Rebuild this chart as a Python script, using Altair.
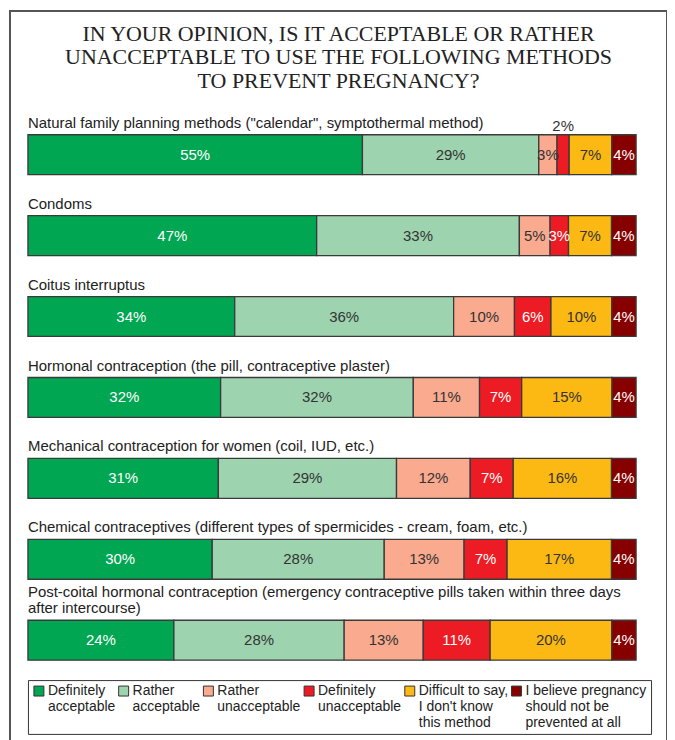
import json
import altair as alt
import pandas as pd

methods = [
    'Natural family planning methods ("calendar", symptothermal method)',
    'Condoms',
    'Coitus interruptus',
    'Hormonal contraception (the pill, contraceptive plaster)',
    'Mechanical contraception for women (coil, IUD, etc.)',
    'Chemical contraceptives (different types of spermicides - cream, foam, etc.)',
    'Post-coital hormonal contraception (emergency contraceptive pills taken within three days after intercourse)',
]
method_label_lines = [
    ['Natural family planning methods ("calendar", symptothermal method)'],
    ['Condoms'],
    ['Coitus interruptus'],
    ['Hormonal contraception (the pill, contraceptive plaster)'],
    ['Mechanical contraception for women (coil, IUD, etc.)'],
    ['Chemical contraceptives (different types of spermicides - cream, foam, etc.)'],
    ['Post-coital hormonal contraception (emergency contraceptive pills taken within three days',
     'after intercourse)'],
]

categories = [
    "Definitely acceptable",
    "Rather acceptable",
    "Rather unacceptable",
    "Definitely unacceptable",
    "Difficult to say, I don't know this method",
    "I believe pregnancy should not be prevented at all",
]
legend_lines = [
    ["Definitely", "acceptable", " "],
    ["Rather", "acceptable", " "],
    ["Rather", "unacceptable", " "],
    ["Definitely", "unacceptable", " "],
    ["Difficult to say,", "I don't know", "this method"],
    ["I believe pregnancy", "should not be", "prevented at all"],
]
colors = ["#00A651", "#9DD3AF", "#F9AA8F", "#ED1C24", "#FDB913", "#870000"]

definitely_acceptable = [55, 47, 34, 32, 31, 30, 24]
rather_acceptable = [29, 33, 36, 32, 29, 28, 28]
rather_unacceptable = [3, 5, 10, 11, 12, 13, 13]
definitely_unacceptable = [2, 3, 6, 7, 7, 7, 11]
difficult_to_say = [7, 7, 10, 15, 16, 17, 20]
not_prevented = [4, 4, 4, 4, 4, 4, 4]

series = [definitely_acceptable, rather_acceptable, rather_unacceptable,
          definitely_unacceptable, difficult_to_say, not_prevented]

rows = []
for ci, (cat, vals) in enumerate(zip(categories, series)):
    for mi, m in enumerate(methods):
        rows.append({"method": m, "category": cat, "order": ci, "value": vals[mi]})
df = pd.DataFrame(rows)

label_rows = []
for m, lines in zip(methods, method_label_lines):
    n = len(lines)
    for i, line in enumerate(lines):
        label_rows.append({"method": m, "line": line, "from_bottom": n - 1 - i})
labels_df = pd.DataFrame(label_rows)

SANS = "Liberation Sans"
white_cats = [categories[0], categories[3], categories[5]]

x_scale = alt.Scale(domain=[0, 1], range=[18, 628])
y_scale = alt.Scale(domain=methods, range=[124, 651], paddingInner=0.507, paddingOuter=0)

legend_map = json.dumps(dict(zip(categories, legend_lines)))

base = alt.Chart(df).transform_joinaggregate(
    total="sum(value)", groupby=["method"]
).transform_window(
    cum="sum(value)", groupby=["method"], sort=[alt.SortField("order")], frame=[None, 0]
).transform_calculate(
    start="(datum.cum - datum.value) / datum.total",
    end="datum.cum / datum.total",
    mid="(datum.cum - datum.value / 2) / datum.total",
    label="datum.value + '%'",
)

bars = base.mark_bar(stroke="#3a3a3a", strokeWidth=1.3).encode(
    x=alt.X("start:Q", scale=x_scale, axis=None),
    x2="end:Q",
    y=alt.Y("method:N", scale=y_scale, axis=None),
    color=alt.Color(
        "category:N",
        scale=alt.Scale(domain=categories, range=colors),
        legend=alt.Legend(
            title=None,
            orient="none",
            legendX=18,
            legendY=671,
            direction="horizontal",
            columns=6,
            columnPadding=1,
            symbolType="square",
            symbolSize=100,
            symbolStrokeColor="#333333",
            symbolStrokeWidth=1,
            symbolOpacity=1,
            labelOffset=2,
            labelFont=SANS,
            labelFontSize=14,
            labelColor="#222222",
            labelBaseline="middle",
            labelLimit=300,
            labelExpr=legend_map + "[datum.label]",
            strokeColor="#333333",
            padding=4,
        ),
    ),
    order=alt.Order("order:Q"),
)

text_color = alt.condition(
    alt.FieldOneOfPredicate(field="category", oneOf=white_cats),
    alt.value("white"),
    alt.value("#333333"),
)

inside = base.transform_filter("datum.value >= 3").mark_text(
    font=SANS, fontSize=15, baseline="middle", align="center"
).encode(
    x=alt.X("mid:Q", scale=x_scale, axis=None),
    y=alt.Y("method:N", scale=y_scale, axis=None),
    text="label:N",
    color=text_color,
)

above = base.transform_filter("datum.value < 3").mark_text(
    font=SANS, fontSize=15, baseline="bottom", align="center", dy=-1, color="#333333"
).encode(
    x=alt.X("mid:Q", scale=x_scale, axis=None),
    y=alt.Y("method:N", scale=y_scale, axis=None, bandPosition=0),
    text="label:N",
)

label_base = alt.Chart(labels_df)
method_labels_last = label_base.transform_filter("datum.from_bottom == 0").mark_text(
    font=SANS, fontSize=15, baseline="bottom", align="left", dy=-4, color="#222222"
).encode(
    x=alt.value(18),
    y=alt.Y("method:N", scale=y_scale, axis=None, bandPosition=0),
    text="line:N",
)
method_labels_prev = label_base.transform_filter("datum.from_bottom == 1").mark_text(
    font=SANS, fontSize=15, baseline="bottom", align="left", dy=-20, color="#222222"
).encode(
    x=alt.value(18),
    y=alt.Y("method:N", scale=y_scale, axis=None, bandPosition=0),
    text="line:N",
)

chart = alt.layer(bars, inside, above, method_labels_last, method_labels_prev).properties(
    width=659,
    height=740,
    autosize=alt.AutoSizeParams(type="none"),
    padding={"left": 2, "top": 2, "right": 0, "bottom": 0},
    title=alt.TitleParams(
        text=["IN YOUR OPINION, IS IT ACCEPTABLE OR RATHER",
              "UNACCEPTABLE TO USE THE FOLLOWING METHODS",
              "TO PREVENT PREGNANCY?"],
        font="Liberation Serif",
        fontSize=22,
        fontWeight="normal",
        color="#222222",
        lineHeight=23.5,
        anchor="middle",
        frame="group",
        baseline="top",
        offset=-82,
    ),
).configure_view(
    stroke="#555555", strokeWidth=2
)

chart.save("out.html", embed_options={"renderer": "svg", "actions": False})
